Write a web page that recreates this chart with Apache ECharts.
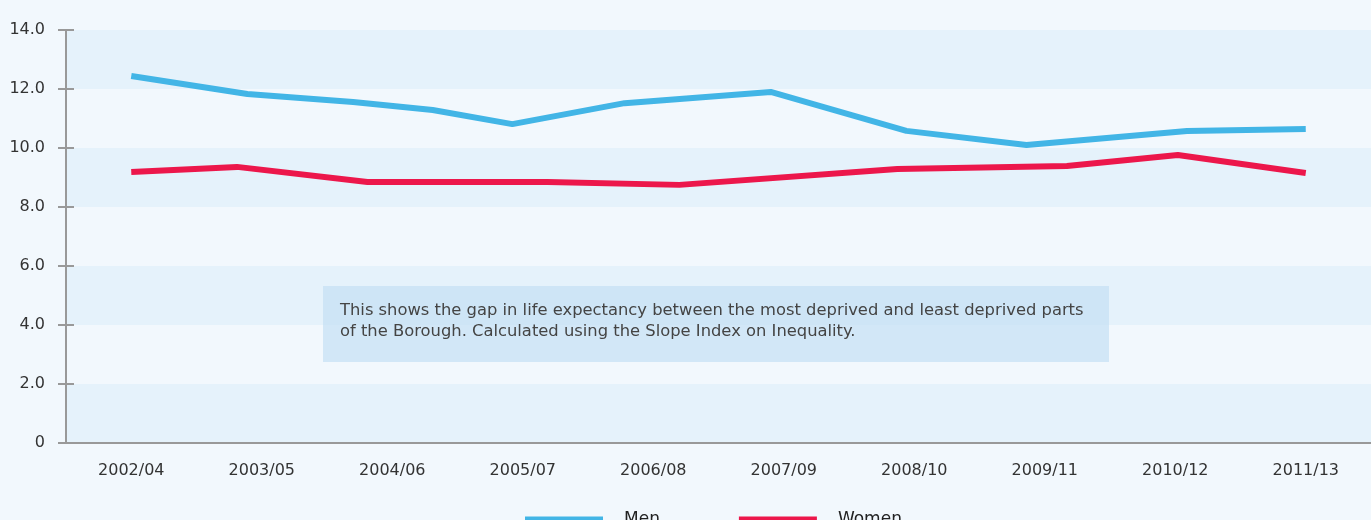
<!DOCTYPE html>
<html>
<head>
<meta charset="utf-8">
<script src="https://cdn.jsdelivr.net/npm/echarts@6/dist/echarts.min.js"></script>
<style>
  html, body { margin: 0; padding: 0; background: #f2f8fd; }
  #chart { width: 1371px; height: 520px; }
</style>
</head>
<body>
<div id="chart"></div>
<script>
// periods on the x axis
var categories = ["2002/04", "2003/05", "2004/06", "2005/07", "2006/08",
  "2007/09", "2008/10", "2009/11", "2010/12", "2011/13"];

// line vertices, position in category units (0 = 2002/04) and gap in years
var menPos = [0, 0.89, 1.70, 2.31, 2.92, 3.78, 4.90, 5.94, 6.86, 8.09, 9.0];
var menGap = [12.44, 11.83, 11.56, 11.29, 10.81, 11.52, 11.90, 10.58, 10.10, 10.58, 10.64];
var womenPos = [0, 0.81, 1.81, 3.19, 4.20, 5.87, 7.17, 8.02, 9.0];
var womenGap = [9.19, 9.36, 8.85, 8.85, 8.75, 9.29, 9.39, 9.76, 9.15];

var yTicks = [0, 2, 4, 6, 8, 10, 12, 14];
var note = "This shows the gap in life expectancy between the most deprived and least deprived parts\nof the Borough. Calculated using the Slope Index on Inequality.";

function pairs(xs, ys) {
  return xs.map(function (x, i) { return [x, ys[i]]; });
}

var font = "'DejaVu Sans', sans-serif";
var chart = echarts.init(document.getElementById("chart"));
chart.setOption({
  backgroundColor: "#f2f8fd",
  animation: false,
  textStyle: { fontFamily: font },
  grid: { left: 66, top: 30, bottom: 77, width: 1306 },
  legend: {
    top: 506,
    left: 520,
    itemWidth: 78,
    itemHeight: 6,
    itemGap: 79,
    icon: "rect",
    textStyle: { fontSize: 17, color: "#222", padding: [0, 0, 0, 16], fontFamily: font },
    data: ["Men", "Women"]
  },
  xAxis: [
    {
      type: "category",
      data: categories,
      boundaryGap: true,
      axisLine: { lineStyle: { color: "#999", width: 2 } },
      axisTick: { length: 9, lineStyle: { color: "#999", width: 2 } },
      axisLabel: { color: "#333", fontSize: 16, margin: 20, fontFamily: font },
      splitLine: { show: false }
    },
    {
      type: "value",
      show: false,
      min: -0.5,
      max: 9.5
    }
  ],
  yAxis: [
    {
      type: "value",
      min: yTicks[0],
      max: yTicks[yTicks.length - 1],
      interval: 2,
      axisLine: { show: true, onZero: false, lineStyle: { color: "#999", width: 2 } },
      axisTick: { show: true, length: 8, lineStyle: { color: "#999", width: 2 } },
      axisLabel: {
        color: "#333", fontSize: 16, margin: 21, fontFamily: font,
        formatter: function (v) { return v === 0 ? "0" : v.toFixed(1); }
      },
      splitLine: { show: false },
      splitArea: { show: true, areaStyle: { color: ["#e5f2fb", "#f2f8fd"] } }
    },
    {
      type: "value",
      position: "left",
      min: yTicks[0],
      max: yTicks[yTicks.length - 1],
      interval: 2,
      axisLine: { show: false, onZero: false },
      axisTick: { show: true, inside: true, length: 8, lineStyle: { color: "#999", width: 2 } },
      axisLabel: { show: false },
      splitLine: { show: false }
    }
  ],
  graphic: [
    {
      type: "rect",
      left: 323,
      top: 286,
      shape: { width: 786, height: 76 },
      style: { fill: "rgba(196, 224, 243, 0.7)" },
      z: 1
    },
    {
      type: "text",
      left: 340,
      top: 300,
      style: { text: note, fill: "#444", font: "16.35px " + font, lineHeight: 21 },
      z: 2
    }
  ],
  series: [
    {
      name: "Men",
      type: "line",
      xAxisIndex: 1,
      symbol: "none",
      color: "#42b5e6",
      lineStyle: { width: 6, color: "#42b5e6" },
      data: pairs(menPos, menGap)
    },
    {
      name: "Women",
      type: "line",
      xAxisIndex: 1,
      symbol: "none",
      color: "#ec174b",
      lineStyle: { width: 6, color: "#ec174b" },
      data: pairs(womenPos, womenGap)
    }
  ]
});
</script>
</body>
</html>
